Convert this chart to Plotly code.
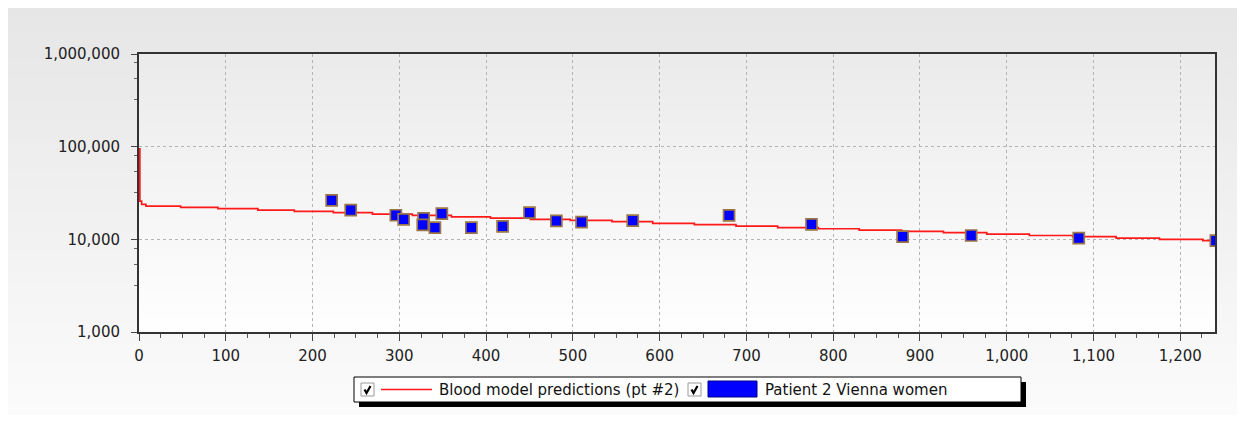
import plotly.graph_objects as go

# ---------------- data ----------------
sample_days = [222, 244, 296, 305, 328, 327, 341, 349, 383, 419, 450, 481, 510, 569, 680, 775, 880, 959, 1083, 1241]
sample_values = [26300, 20700, 18200, 16400, 16800, 14300, 13400, 18900, 13400, 13800, 19400, 15800, 15300, 15900,
                 18100, 14500, 10700, 11000, 10300, 9700]

model_days = [0, 1, 3, 8, 48, 91, 137, 179, 224, 269, 315, 360, 405, 451, 497, 545, 592, 640, 688, 736, 783,
              830, 879, 927, 977, 1026, 1076, 1126, 1176, 1226, 1240]
model_values = [95000, 25800, 23800, 22800, 22100, 21400, 20700, 20000, 19400, 18700, 18100, 17500, 16900, 16400,
                16000, 15500, 14900, 14400, 13900, 13400, 13000, 12600, 12200, 11800, 11400, 11000, 10700, 10300,
                10000, 9700, 9700]

y_tickvals = [1000, 10000, 100000, 1000000]
y_ticktext = ["1,000", "10,000", "100,000", "1,000,000"]
x_tickvals = list(range(0, 1201, 100))
x_ticktext = ["{:,}".format(v) for v in x_tickvals]

series_names = ["Blood model predictions (pt #2)", "Patient 2 Vienna women"]

# ---------------- geometry helpers (page pixel coords; page body has an 8px margin) ----------------
OFF = 8
W, H = 1237 - OFF, 415 - OFF
L, R, T, B = 139, 1215, 54, 332


def X(px):
    return (px - L) / (R - L)


def Y(py):
    return (B - py) / (B - T)


def hexmix(c1, c2, t):
    a = [int(c1[i:i + 2], 16) for i in (1, 3, 5)]
    b = [int(c2[i:i + 2], 16) for i in (1, 3, 5)]
    return "#%02x%02x%02x" % tuple(round(a[k] + (b[k] - a[k]) * t) for k in range(3))


shapes = []


def gradient(x0, y0, x1, y1, ctop, cbot, n=40):
    h = (y1 - y0) / n
    for i in range(n):
        shapes.append(dict(type="rect", xref="paper", yref="paper", layer="below",
                           x0=X(x0), x1=X(x1), y0=Y(y0 + i * h), y1=Y(y0 + (i + 1) * h + 0.6),
                           fillcolor=hexmix(ctop, cbot, i / (n - 1)), line=dict(width=0)))


gradient(8, 8, 1237, 415, "#e6e6e6", "#fbfbfb")
gradient(L, T, R, B, "#ebebeb", "#fefefe")

fig = go.Figure()

fig.add_trace(go.Scatter(
    x=model_days, y=model_values, mode="lines", name=series_names[0],
    line=dict(color="#ff1a1a", width=1.7, shape="hv"), hoverinfo="x+y", showlegend=False))

fig.add_trace(go.Scatter(
    x=sample_days, y=sample_values, mode="markers", name=series_names[1],
    marker=dict(symbol="square", size=11, color="#0000ff", line=dict(color="#9a7648", width=1.7)),
    cliponaxis=True, showlegend=False))

# ---------------- custom legend ----------------
shapes.append(dict(type="rect", xref="paper", yref="paper", x0=X(359), x1=X(1026), y0=Y(407), y1=Y(382),
                   fillcolor="#000000", line=dict(width=0), layer="above"))
shapes.append(dict(type="rect", xref="paper", yref="paper", x0=X(354), x1=X(1021), y0=Y(402), y1=Y(377),
                   fillcolor="#ffffff", line=dict(color="#000000", width=1), layer="above"))


def checkbox(px0):
    shapes.append(dict(type="rect", xref="paper", yref="paper", x0=X(px0), x1=X(px0 + 13), y0=Y(396), y1=Y(383),
                       fillcolor="#ffffff", line=dict(color="#9a9a9a", width=1), layer="above"))
    cx, cy = px0, 383
    path = "M {} {} L {} {} L {} {}".format(X(cx + 3.5), Y(cy + 6.5), X(cx + 5.5), Y(cy + 10), X(cx + 9.5), Y(cy + 3))
    shapes.append(dict(type="path", xref="paper", yref="paper", path=path,
                       line=dict(color="#000000", width=2.2), layer="above"))


checkbox(361)
checkbox(688)
shapes.append(dict(type="line", xref="paper", yref="paper", x0=X(381), x1=X(432), y0=Y(389.5), y1=Y(389.5),
                   line=dict(color="#ff1a1a", width=1.5), layer="above"))
shapes.append(dict(type="rect", xref="paper", yref="paper", x0=X(708), x1=X(757), y0=Y(397), y1=Y(381),
                   fillcolor="#0000ff", line=dict(color="#00008b", width=1), layer="above"))

legend_font = dict(family="DejaVu Sans", size=15, color="#111111")
annotations = [
    dict(xref="paper", yref="paper", x=X(437), y=Y(389.5), xanchor="left", yanchor="middle",
         text=series_names[0], showarrow=False, font=legend_font),
    dict(xref="paper", yref="paper", x=X(763), y=Y(389.5), xanchor="left", yanchor="middle",
         text=series_names[1], showarrow=False, font=legend_font),
]

axis_font = dict(family="DejaVu Sans", size=15, color="#222222")

fig.update_layout(
    width=W, height=H,
    margin=dict(l=L - OFF, r=(W + OFF) - R, t=T - OFF, b=(H + OFF) - B, pad=0),
    paper_bgcolor="#ffffff",
    plot_bgcolor="rgba(0,0,0,0)",
    shapes=shapes,
    annotations=annotations,
    showlegend=False,
)

fig.update_xaxes(
    range=[0, 1240], tickvals=x_tickvals, ticktext=x_ticktext,
    showgrid=True, gridcolor="#b4b4b4", griddash="3px,3px", gridwidth=1,
    showline=True, linecolor="#333333", linewidth=2, mirror=True,
    ticks="outside", ticklen=7, tickcolor="#444444", tickwidth=1,
    minor=dict(dtick=25, tick0=0, ticks="outside", ticklen=4, tickcolor="#555555", showgrid=False),
    tickfont=axis_font, zeroline=False, ticklabelstandoff=2,
)
fig.update_yaxes(
    type="log", range=[3, 6], tickvals=y_tickvals, ticktext=y_ticktext,
    showgrid=True, gridcolor="#b4b4b4", griddash="3px,3px", gridwidth=1,
    showline=True, linecolor="#333333", linewidth=2, mirror=True,
    ticks="outside", ticklen=6, tickcolor="#444444", tickwidth=1,
    minor=dict(tickvals=[3200, 5400, 8000, 32000, 54000, 80000, 320000, 540000, 800000],
               ticks="outside", ticklen=3, tickcolor="#666666", showgrid=False),
    tickfont=axis_font, zeroline=False, ticklabelstandoff=8,
)

fig.write_html("out.html")
